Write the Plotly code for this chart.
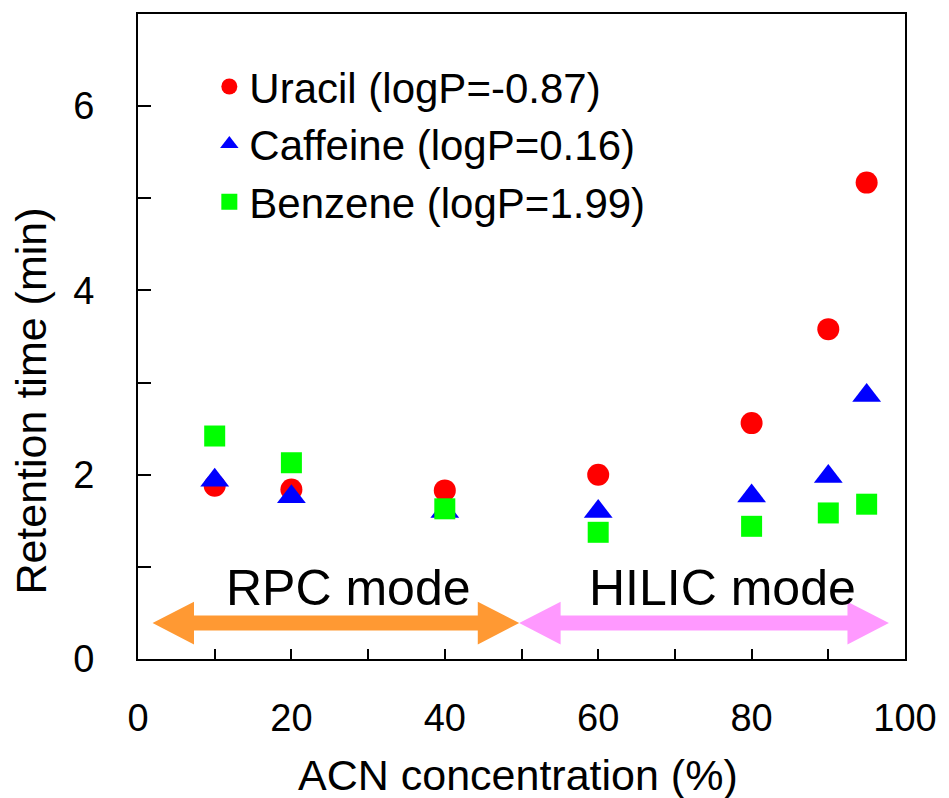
import plotly.graph_objects as go

# ---- data ----
acn = [10, 20, 40, 60, 80, 90, 95]
uracil = [1.88, 1.84, 1.83, 2.00, 2.56, 3.58, 5.17]
caffeine = [1.94, 1.76, 1.60, 1.60, 1.77, 1.98, 2.86]
benzene = [2.42, 2.13, 1.63, 1.375, 1.44, 1.585, 1.68]

series_names = ["Uracil (logP=-0.87)", "Caffeine (logP=0.16)", "Benzene (logP=1.99)"]
series_colors = ["#FF0000", "#0000FF", "#00FF00"]
series_symbols = ["circle", "triangle-up", "square"]
series_sizes = [22, 25, 21]

x_tickvals = [0, 10, 20, 30, 40, 50, 60, 70, 80, 90, 100]
x_ticktext = ["0", "", "20", "", "40", "", "60", "", "80", "", "100"]
y_tickvals = [0, 1, 2, 3, 4, 5, 6]
y_ticktext = ["0", "", "2", "", "4", "", "6"]

# mode arrows (data coordinates)
mode_labels = ["RPC mode", "HILIC mode"]
mode_label_x = [27.5, 76.2]
mode_label_y = [0.77, 0.77]
arrow_start = [1.9, 49.7]
arrow_end = [49.7, 97.9]
arrow_y = 0.39
arrow_colors = ["#FF9933", "#FF99FF"]

FONT = "Liberation Sans, Arial, sans-serif"

fig = go.Figure()
for name, ys, c, s, sz in zip(series_names, [uracil, caffeine, benzene],
                              series_colors, series_symbols, series_sizes):
    fig.add_trace(go.Scatter(x=acn, y=ys, mode="markers", name=name,
                             marker=dict(color=c, symbol=s, size=sz, line=dict(width=0))))

# double-headed arrows
hl, hh, hs = 5.4, 0.232, 0.081
for xa, xb, col in zip(arrow_start, arrow_end, arrow_colors):
    y0 = arrow_y
    pts = [(xa, y0), (xa + hl, y0 + hh), (xa + hl, y0 + hs), (xb - hl, y0 + hs),
           (xb - hl, y0 + hh), (xb, y0), (xb - hl, y0 - hh), (xb - hl, y0 - hs),
           (xa + hl, y0 - hs), (xa + hl, y0 - hh)]
    path = "M " + " L ".join(f"{px},{py}" for px, py in pts) + " Z"
    fig.add_shape(type="path", path=path, xref="x", yref="y",
                  fillcolor=col, line=dict(width=0), layer="below")

for t, tx, ty in zip(mode_labels, mode_label_x, mode_label_y):
    fig.add_annotation(x=tx, y=ty, xref="x", yref="y", text=t, showarrow=False,
                       font=dict(family=FONT, size=50, color="black"))

# axis titles as annotations
fig.add_annotation(x=0.495, y=-0.18, xref="paper", yref="paper", xanchor="center", yanchor="middle",
                   text="ACN concentration (%)", showarrow=False,
                   font=dict(family=FONT, size=43, color="black"))
fig.add_annotation(x=-0.14, y=0.40, xref="paper", yref="paper", xanchor="center", yanchor="middle",
                   text="Retention time (min)", showarrow=False, textangle=-90,
                   font=dict(family=FONT, size=43, color="black"))

fig.update_layout(
    width=949, height=798,
    margin=dict(l=138, r=37, t=12, b=139),
    paper_bgcolor="white", plot_bgcolor="white",
    font=dict(family=FONT, color="black"),
    showlegend=True,
    legend=dict(x=0.093, y=0.94, xanchor="left", yanchor="top",
                bgcolor="rgba(0,0,0,0)", font=dict(family=FONT, size=42),
                itemsizing="trace"),
)
fig.update_xaxes(range=[0, 100], tickvals=x_tickvals, ticktext=x_ticktext,
                 ticks="inside", ticklen=10, tickwidth=2, tickcolor="black",
                 showline=True, linewidth=2, linecolor="black", mirror=True,
                 showgrid=False, zeroline=False,
                 tickfont=dict(family=FONT, size=38), ticklabelstandoff=24)
fig.update_yaxes(range=[0, 7], tickvals=y_tickvals, ticktext=y_ticktext,
                 ticks="inside", ticklen=13, tickwidth=2, tickcolor="black",
                 showline=True, linewidth=2, linecolor="black", mirror=True,
                 showgrid=False, zeroline=False,
                 tickfont=dict(family=FONT, size=38), ticklabelstandoff=34)

fig.write_html("out.html")
